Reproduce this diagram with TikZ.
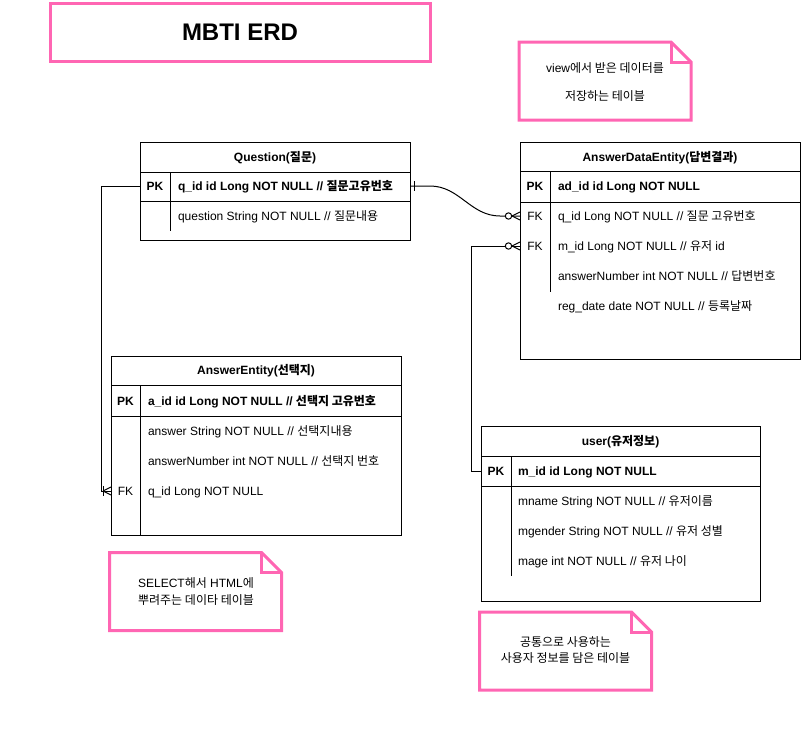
\documentclass[tikz,border=0pt]{standalone}
\usepackage{fontspec}
\setmainfont{Liberation Sans}
\newfontfamily\krfont{Noto Sans CJK KR}
\newcommand\kr[1]{{\krfont #1}}
\usetikzlibrary{calc}
\definecolor{notepink}{RGB}{255,102,179}
\newcommand\zeromany[1]{%
  \draw[conn] ([xshift=-8]#1) -- ([yshift=4]#1) ([xshift=-8]#1) -- ([yshift=-4]#1);
  \draw[conn,fill=white] ([xshift=-11.5]#1) circle (3.2);}
\newcommand\onemany[1]{%
  \draw[conn] ([xshift=-8]#1) -- ([yshift=4]#1) ([xshift=-8]#1) -- ([yshift=-4]#1);
  \draw[conn] ([xshift=-8,yshift=5]#1) -- ([xshift=-8,yshift=-5]#1);}
\begin{document}
\begin{tikzpicture}[x=1pt,y=-1pt,
  every node/.style={inner sep=0pt, outer sep=0pt, font=\fontsize{12}{14}\selectfont},
  tline/.style={draw=black, line width=1pt},
  conn/.style={draw=black, line width=1pt},
  pinkline/.style={draw=notepink, line width=3pt, fill=white},
  hdr/.style={anchor=base, font=\fontsize{12}{14}\selectfont\bfseries},
  keyc/.style={anchor=base},
  fld/.style={anchor=base west},
  fldb/.style={anchor=base west, font=\fontsize{12}{14}\selectfont\bfseries},
  rowarea/.style={minimum height=30, draw=none},
  notearea/.style={minimum width=172, minimum height=78, draw=none},
  notetxt/.style={anchor=base}]
\useasboundingbox (0,0) rectangle (801,732);

% Title
\node[draw=notepink, line width=3pt, minimum width=380, minimum height=58] (title) at (240,32) {};
\node[anchor=base, font=\fontsize{24}{28}\selectfont\bfseries] (titletxt) at (240,40) {MBTI ERD};

% ---------- Question table ----------
\draw[tline] (140,142) rectangle (410,240);
\draw[tline] (140,172) -- (410,172) (140,201) -- (410,201) (170,172) -- (170,231);
\node[hdr] (qh) at (275,161.3) {Question(\kr{질문})};
\node[rowarea, minimum width=270] (qpk) at (275,186) {};
\node[keyc] (qpkk) at (155,190.3) {\bfseries PK};
\node[fldb] (qpkt) at (178,190.3) {q\_id id Long NOT NULL // \kr{질문고유번호}};
\node[fld] (qq) at (178,220.3) {question String NOT NULL // \kr{질문내용}};

% ---------- AnswerDataEntity table ----------
\draw[tline] (520,142) rectangle (800,359);
\draw[tline] (520,171) -- (800,171) (520,202) -- (800,202) (550,171) -- (550,292);
\node[hdr] (adh) at (660,161.3) {AnswerDataEntity(\kr{답변결과})};
\node[keyc] (adpkk) at (535,190.3) {\bfseries PK};
\node[fldb] (adpkt) at (558,190.3) {ad\_id id Long NOT NULL};
\node[rowarea, minimum width=280] (adq) at (660,216) {};
\node[keyc] (adqk) at (535,220.3) {FK};
\node[fld] (adqt) at (558,220.3) {q\_id Long NOT NULL // \kr{질문 고유번호}};
\node[rowarea, minimum width=280] (adm) at (660,246) {};
\node[keyc] (admk) at (535,250.3) {FK};
\node[fld] (admt) at (558,250.3) {m\_id Long NOT NULL // \kr{유저} id};
\node[fld] (adn) at (558,280.3) {answerNumber int NOT NULL // \kr{답변번호}};
\node[fld] (adr) at (558,310.3) {reg\_date date NOT NULL // \kr{등록날짜}};

% ---------- AnswerEntity table ----------
\draw[tline] (111,356) rectangle (401,535);
\draw[tline] (111,385) -- (401,385) (111,416) -- (401,416) (140,385) -- (140,535);
\node[hdr] (aeh) at (256,374.3) {AnswerEntity(\kr{선택지})};
\node[keyc] (aepkk) at (125.5,405.3) {\bfseries PK};
\node[fldb] (aepkt) at (148,405.3) {a\_id id Long NOT NULL // \kr{선택지 고유번호}};
\node[fld] (aea) at (148,435.3) {answer String NOT NULL // \kr{선택지내용}};
\node[fld] (aen) at (148,465.3) {answerNumber int NOT NULL // \kr{선택지 번호}};
\node[rowarea, minimum width=290] (aefk) at (256,491) {};
\node[keyc] (aefkk) at (125.5,495.3) {FK};
\node[fld] (aefkt) at (148,495.3) {q\_id Long NOT NULL};

% ---------- user table ----------
\draw[tline] (481,426) rectangle (760,601);
\draw[tline] (481,456) -- (760,456) (481,486) -- (760,486) (511,456) -- (511,576);
\node[hdr] (uh) at (620.5,445.3) {user(\kr{유저정보})};
\node[rowarea, minimum width=279] (upk) at (620.5,471) {};
\node[keyc] (upkk) at (496,475.3) {\bfseries PK};
\node[fldb] (upkt) at (518,475.3) {m\_id id Long NOT NULL};
\node[fld] (un) at (518,505.3) {mname String NOT NULL // \kr{유저이름}};
\node[fld] (ug) at (518,535.3) {mgender String NOT NULL // \kr{유저 성별}};
\node[fld] (ua) at (518,565.3) {mage int NOT NULL // \kr{유저 나이}};

% ---------- connectors ----------
\draw[conn] (qpk.east) -- ++(20,0) to[out=0,in=180] ([xshift=-20]adq.west) -- (adq.west);
\draw[conn] ([xshift=4,yshift=5]qpk.east) -- ([xshift=4,yshift=-5]qpk.east);
\zeromany{adq.west}
\draw[conn] (qpk.west) -- ++(-39,0) |- (aefk.west);
\onemany{aefk.west}
\draw[conn] (upk.west) -- ++(-10,0) |- (adm.west);
\zeromany{adm.west}

% ---------- notes ----------
\node[notearea] (n1) at (605,81) {};
\draw[pinkline] (n1.north west) -- ([xshift=-20]n1.north east) -- ([yshift=-20]n1.north east) -- (n1.south east) -- (n1.south west) -- cycle;
\draw[pinkline, fill=none] ([xshift=-20]n1.north east) -- ([xshift=-20,yshift=-20]n1.north east) -- ([yshift=-20]n1.north east);
\node[notetxt] (n1a) at (605,72.3) {view\kr{에서 받은 데이터를}};
\node[notetxt] (n1b) at (605,100.3) {\kr{저장하는 테이블}};

\node[notearea] (n2) at (195.5,591.5) {};
\draw[pinkline] (n2.north west) -- ([xshift=-20]n2.north east) -- ([yshift=-20]n2.north east) -- (n2.south east) -- (n2.south west) -- cycle;
\draw[pinkline, fill=none] ([xshift=-20]n2.north east) -- ([xshift=-20,yshift=-20]n2.north east) -- ([yshift=-20]n2.north east);
\node[notetxt] (n2a) at (196,587.3) {SELECT\kr{해서} HTML\kr{에}};
\node[notetxt] (n2b) at (196,604.3) {\kr{뿌려주는 데이타 테이블}};

\node[notearea] (n3) at (565.5,651) {};
\draw[pinkline] (n3.north west) -- ([xshift=-20]n3.north east) -- ([yshift=-20]n3.north east) -- (n3.south east) -- (n3.south west) -- cycle;
\draw[pinkline, fill=none] ([xshift=-20]n3.north east) -- ([xshift=-20,yshift=-20]n3.north east) -- ([yshift=-20]n3.north east);
\node[notetxt] (n3a) at (565.5,646.3) {\kr{공통으로 사용하는}};
\node[notetxt] (n3b) at (565.5,662.3) {\kr{사용자 정보를 담은 테이블}};
\end{tikzpicture}
\end{document}
